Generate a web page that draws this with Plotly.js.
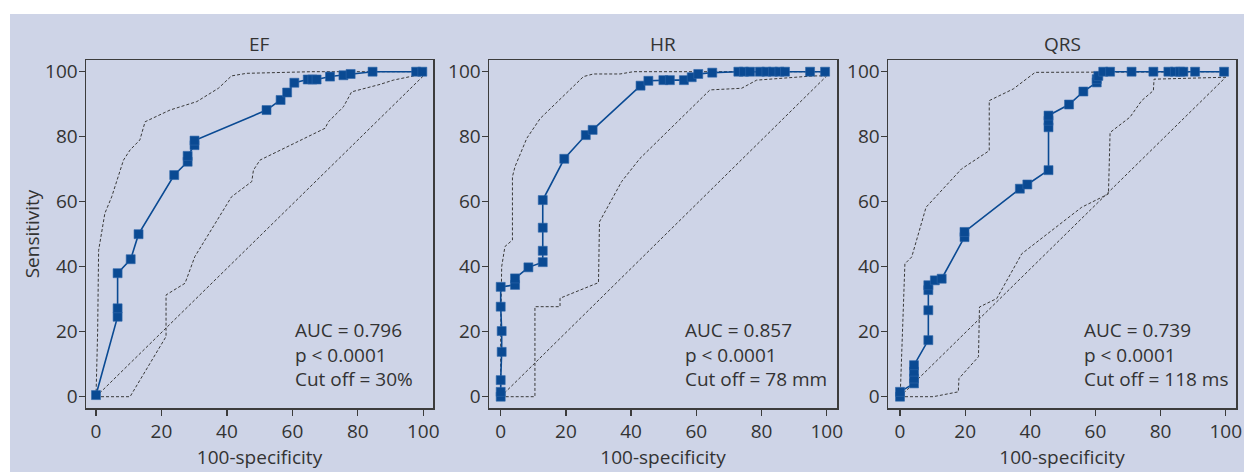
<!DOCTYPE html>
<html>
<head>
<meta charset="utf-8">
<script src="https://cdn.plot.ly/plotly-3.0.1.min.js"></script>
<style>html,body{margin:0;padding:0;background:#fff;}#chart{width:1244px;height:472px;}</style>
</head>
<body>
<div id="chart"></div>
<script>
// ---- Data ----
const panelTitles = ["EF", "HR", "QRS"];
const statTexts = [
  "AUC = 0.796<br>p &lt; 0.0001<br>Cut off = 30%",
  "AUC = 0.857<br>p &lt; 0.0001<br>Cut off = 78 mm",
  "AUC = 0.739<br>p &lt; 0.0001<br>Cut off = 118 ms"
];
const tickVals = [0, 20, 40, 60, 80, 100];

// EF
const efRocX = [0, 6.6, 6.6, 6.6, 10.6, 13.0, 23.9, 28.0, 28.0, 30.1, 30.1, 52.1, 56.4, 58.4, 60.6, 64.7, 66.1, 67.4, 71.5, 75.6, 77.8, 84.5, 97.8, 99.7];
const efRocY = [0.5, 24.6, 27.2, 38.0, 42.3, 50.0, 68.2, 72.3, 74.1, 77.4, 78.8, 88.2, 91.3, 93.6, 96.6, 97.6, 97.6, 97.6, 98.5, 98.9, 99.3, 100, 100, 100];
const efUpX = [0, 0.5, 0.8, 2.7, 4.8, 8.4, 10.4, 13.4, 15.0, 22.6, 30.8, 37.4, 41.4, 46.0, 66.0, 100];
const efUpY = [0, 20, 45, 56.4, 61.5, 72.8, 75.9, 79.0, 84.6, 88.2, 90.8, 94.9, 98.7, 99.5, 100, 100];
const efLoX = [0, 10.4, 21.4, 21.4, 27.2, 30.2, 41.4, 47.6, 48.1, 50.1, 70.0, 71.0, 75.6, 78.1, 86.8, 90.8, 97.0, 100];
const efLoY = [0, 0, 18.5, 31.3, 34.9, 43.1, 61.5, 66.2, 69.7, 72.8, 82.6, 84.6, 89.2, 93.8, 96.1, 97.4, 98.7, 100];

// HR
const hrRocX = [0, 0, 0, 0.3, 0.3, 0, 0, 4.4, 4.4, 8.5, 12.9, 12.9, 12.9, 12.9, 19.5, 26.1, 28.2, 42.9, 45.3, 49.9, 51.9, 56.2, 58.6, 60.6, 64.9, 72.9, 74.6, 76.5, 79.5, 81.5, 83.5, 85.5, 87.2, 94.9, 99.5];
const hrRocY = [0, 1.5, 5.1, 13.8, 20.2, 27.7, 33.8, 34.4, 36.4, 39.8, 41.4, 44.9, 52.0, 60.5, 73.2, 80.5, 82.1, 95.7, 97.2, 97.4, 97.4, 97.4, 98.3, 99.3, 99.7, 100, 100, 100, 100, 100, 100, 100, 100, 100, 100];
const hrUpX = [0, 0, 0.3, 1.3, 3.6, 3.6, 4.4, 8.0, 12.1, 25.4, 28.4, 36.6, 40.7, 100];
const hrUpY = [0, 20, 40, 46.2, 48.2, 67.7, 70.8, 79.5, 85.6, 98.5, 99.3, 99.3, 100, 100];
const hrLoX = [0, 10.5, 10.5, 18.2, 18.2, 30.0, 30.3, 37.1, 42.7, 64.2, 73.9, 78.5, 95.9, 99.5];
const hrLoY = [0, 0, 27.7, 27.7, 30.3, 35.1, 53.8, 66.2, 73.3, 94.4, 94.9, 97.4, 98.7, 98.7];

// QRS
const qrsRocX = [0, 0, 4.3, 4.3, 4.3, 4.3, 8.7, 8.7, 8.7, 8.7, 10.7, 12.8, 19.8, 19.8, 36.8, 39.1, 45.6, 45.6, 45.6, 45.6, 51.9, 56.3, 60.4, 60.4, 60.9, 62.4, 64.5, 71.1, 77.8, 82.4, 84.4, 86.0, 87.0, 90.6, 99.5];
const qrsRocY = [0, 1.5, 4.1, 5.6, 7.7, 9.7, 17.4, 26.6, 32.8, 34.3, 35.8, 36.3, 49.1, 50.7, 64.0, 65.3, 69.7, 82.9, 84.9, 86.5, 89.9, 93.9, 96.7, 97.7, 98.7, 100, 100, 100, 100, 100, 100, 100, 100, 100, 100];
const qrsUpX = [0, 0.2, 1.5, 3.6, 8.0, 18.9, 27.4, 27.4, 34.8, 41.5, 100];
const qrsUpY = [0, 4, 40.9, 43.0, 58.3, 70.1, 75.7, 91.1, 94.7, 99.8, 100];
const qrsLoX = [0, 10.2, 17.9, 18.1, 24.1, 24.4, 29.7, 37.4, 55.8, 64.0, 64.5, 70.6, 74.2, 77.8, 78.0, 100];
const qrsLoY = [0, 0, 1.5, 5.6, 12.3, 27.6, 30.2, 44.0, 58.3, 62.4, 81.3, 86.0, 91.1, 94.2, 97.7, 98.3];

const chanceX = [0, 100];
const chanceYs = [98.7, 98.7, 98.3];

// ---- Layout geometry ----
const W = 1244, H = 472;
const frames = [[86, 433], [489, 837], [888, 1236]];
const zeroPx = [96, 500.7, 900];
const scalePx = [3.273, 3.26, 3.257];
const yTop = 60, yBot = 408, yZeroPx = 396.7, yScale = 3.25;

const rocSets = [
  [efRocX, efRocY, efUpX, efUpY, efLoX, efLoY],
  [hrRocX, hrRocY, hrUpX, hrUpY, hrLoX, hrLoY],
  [qrsRocX, qrsRocY, qrsUpX, qrsUpY, qrsLoX, qrsLoY]
];
const statLeftPx = [293, 682.5, 1081.5];

const FONT = "Open Sans, Noto Sans, DejaVu Sans, sans-serif";
const TXT = "#333333";
const BLUE = "#0a4a93";
const dashStyle = {color: "#3a3a3a", width: 1, dash: "3px,2px"};

const traces = [];
const layout = {
  width: W, height: H,
  margin: {l: 0, r: 0, t: 0, b: 0},
  paper_bgcolor: "#ffffff",
  plot_bgcolor: "#ffffff",
  showlegend: false,
  font: {family: FONT, size: 19, color: TXT},
  shapes: [{
    type: "rect", xref: "paper", yref: "paper", layer: "below",
    x0: 10 / W, x1: 1, y0: 0, y1: 1 - 14 / H,
    fillcolor: "#ced4e7", line: {width: 0}
  }],
  annotations: []
};

const yRange = [(yZeroPx - yBot) / yScale, (yZeroPx - yTop) / yScale];

for (let k = 0; k < 3; k++) {
  const sfx = k === 0 ? "" : String(k + 1);
  const xa = "x" + sfx, ya = "y" + sfx;
  const [rx, ry, ux, uy, lx, ly] = rocSets[k];
  const common = {xaxis: xa, yaxis: ya, hoverinfo: "skip"};
  traces.push(Object.assign({x: chanceX, y: [0, chanceYs[k]], mode: "lines", line: dashStyle}, common));
  traces.push(Object.assign({x: ux, y: uy, mode: "lines", line: dashStyle}, common));
  traces.push(Object.assign({x: lx, y: ly, mode: "lines", line: dashStyle}, common));
  traces.push(Object.assign({
    x: rx, y: ry, mode: "lines+markers",
    line: {color: BLUE, width: 1.6},
    marker: {symbol: "square", size: 9, color: BLUE, line: {color: "#2f66aa", width: 0.6}}
  }, common));

  const [L, R] = frames[k];
  const xRange = [(L - zeroPx[k]) / scalePx[k], (R - zeroPx[k]) / scalePx[k]];
  const axisCommon = {
    showgrid: false, zeroline: false, showline: true, mirror: true,
    linecolor: "#3c3c3c", linewidth: 1.5,
    ticks: "outside", ticklen: 6, tickwidth: 1.2, tickcolor: "#3c3c3c",
    tickvals: tickVals, tickfont: {family: FONT, size: 19, color: TXT},
    fixedrange: true
  };
  layout["xaxis" + sfx] = Object.assign({}, axisCommon, {
    domain: [L / W, R / W], range: xRange, anchor: ya,
    title: {text: "100-specificity", font: {family: FONT, size: 19, color: TXT}, standoff: 0}
  });
  layout["yaxis" + sfx] = Object.assign({}, axisCommon, {
    domain: [1 - yBot / H, 1 - yTop / H], range: yRange, anchor: xa, ticklabelstandoff: -3,
    title: k === 0 ? {text: "Sensitivity", font: {family: FONT, size: 19, color: TXT}, standoff: 0} : {text: ""}
  });
  layout.annotations.push({
    xref: "paper", yref: "paper", x: (L + R) / 2 / W, y: 1 - 44 / H,
    xanchor: "center", yanchor: "middle", showarrow: false,
    text: panelTitles[k], font: {family: FONT, size: 19, color: TXT}
  });
  layout.annotations.push({
    xref: xa, yref: ya,
    x: (statLeftPx[k] - zeroPx[k]) / scalePx[k], y: (yZeroPx - 354) / yScale,
    xanchor: "left", yanchor: "middle", align: "left", showarrow: false,
    text: statTexts[k], font: {family: FONT, size: 19, color: TXT}
  });
}

Plotly.newPlot("chart", traces, layout, {staticPlot: true, displayModeBar: false});
</script>
</body>
</html>
